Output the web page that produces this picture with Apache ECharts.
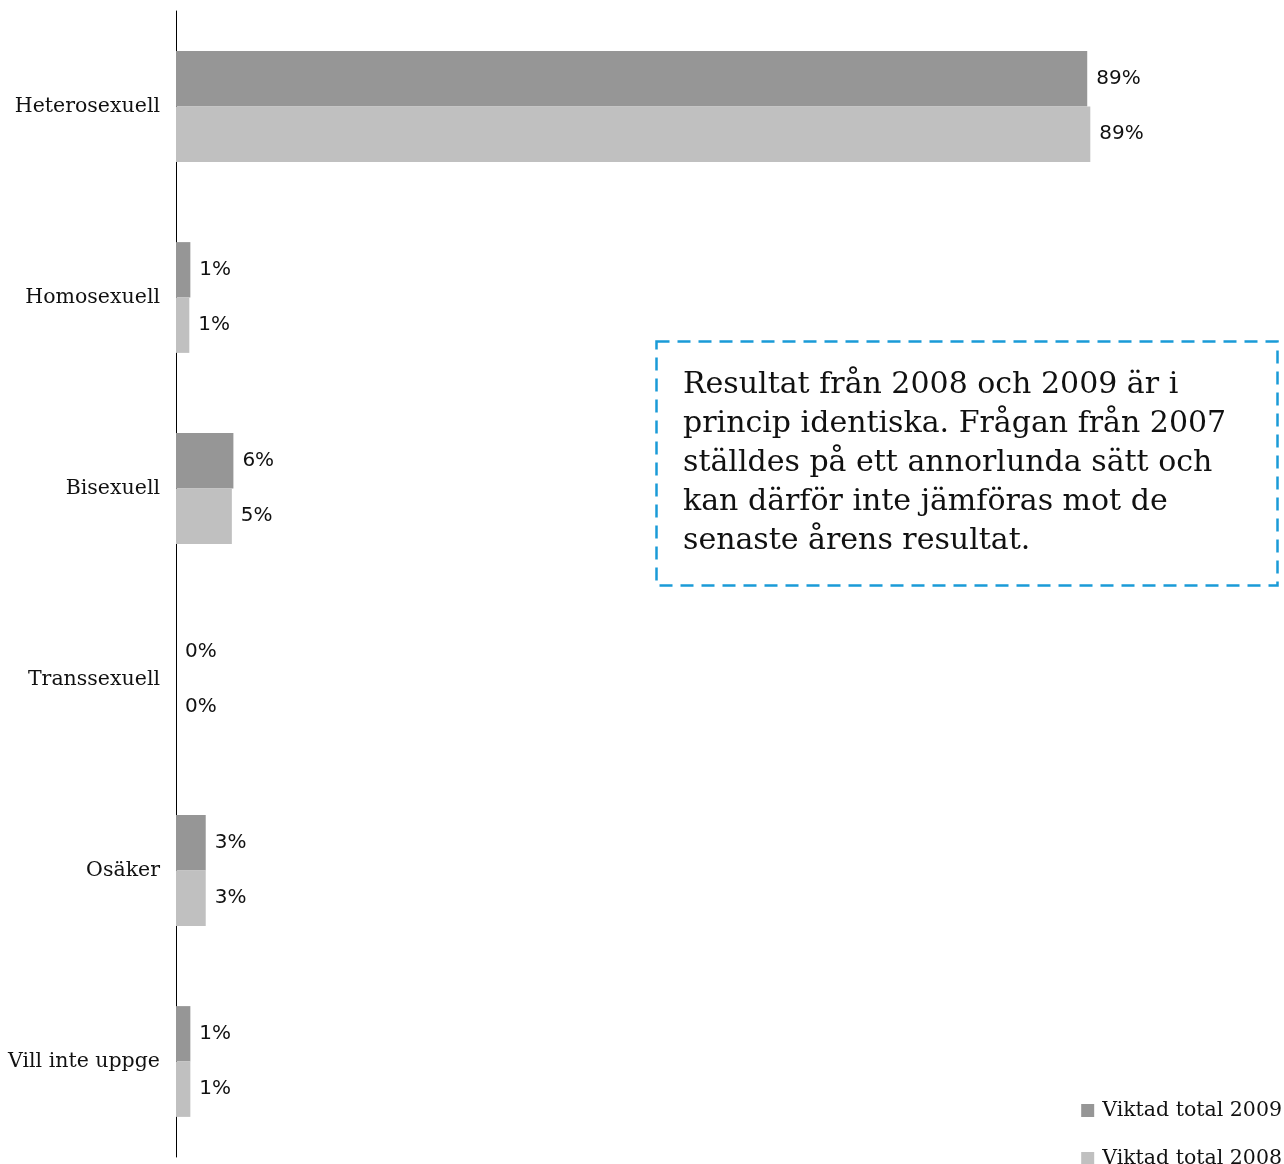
<!DOCTYPE html>
<html>
<head>
<meta charset="utf-8">
<script src="https://cdn.jsdelivr.net/npm/echarts@6/dist/echarts.min.js"></script>
<style>
html,body{margin:0;padding:0;background:#fff;}
#chart{width:1284px;height:1164px;}
</style>
</head>
<body>
<div id="chart"></div>
<script>
const categories = ['Heterosexuell', 'Homosexuell', 'Bisexuell', 'Transsexuell', 'Osäker', 'Vill inte uppge'];
const seriesNames = ['Viktad total 2009', 'Viktad total 2008'];
const values2009 = [88.9, 1.4, 5.6, 0, 2.9, 1.4];
const values2008 = [89.2, 1.3, 5.45, 0, 2.9, 1.4];
const noteText = 'Resultat från 2008 och 2009 är i\nprincip identiska. Frågan från 2007\nställdes på ett annorlunda sätt och\nkan därför inte jämföras mot de\nsenaste årens resultat.';

const serif = 'DejaVu Serif';
const sans = 'DejaVu Sans';
const colors = ['#969696', '#c0c0c0'];

const chart = echarts.init(document.getElementById('chart'));
const labelCfg = {
  show: true,
  position: 'right',
  distance: 9,
  fontFamily: sans,
  fontSize: 20,
  color: '#111',
  formatter: p => Math.round(p.value) + '%'
};
chart.setOption({
  animation: false,
  backgroundColor: '#fff',
  grid: {left: 176, right: 83, top: 11, bottom: 7, containLabel: false},
  xAxis: {type: 'value', min: 0, max: 100, show: false},
  yAxis: {
    type: 'category',
    data: categories,
    inverse: true,
    axisLine: {show: true, lineStyle: {color: '#000', width: 1}},
    axisTick: {show: false},
    axisLabel: {fontFamily: serif, fontSize: 20.5, color: '#111', margin: 16},
    splitLine: {show: false}
  },
  legend: {
    orient: 'vertical',
    right: 2,
    top: 1100,
    height: 120,
    padding: 0,
    itemWidth: 13,
    itemHeight: 13,
    itemGap: 27,
    icon: 'rect',
    textStyle: {fontFamily: serif, fontSize: 20.5, color: '#111', padding: [0, 0, 0, 3]},
    data: seriesNames
  },
  series: [
    {name: seriesNames[0], type: 'bar', data: values2009, itemStyle: {color: colors[0]},
     barGap: '0%', barCategoryGap: '42%', label: labelCfg},
    {name: seriesNames[1], type: 'bar', data: values2008, itemStyle: {color: colors[1]},
     barGap: '0%', barCategoryGap: '42%', label: labelCfg}
  ],
  graphic: [
    {type: 'rect', left: 654, top: 339,
     shape: {width: 621, height: 244},
     style: {fill: 'none', stroke: '#1a9bd7', lineWidth: 2.5, lineDash: [13, 8]}},
    {type: 'text', left: 683, top: 366,
     style: {text: noteText, fontFamily: serif, fontSize: 30, lineHeight: 39, fill: '#111'}}
  ]
});
</script>
</body>
</html>
